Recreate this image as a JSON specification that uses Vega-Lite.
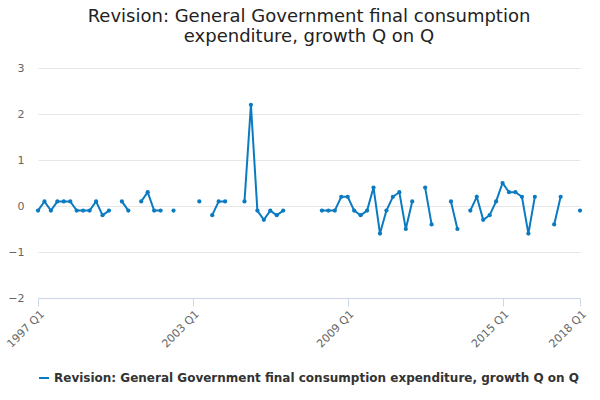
{
  "$schema": "https://vega.github.io/schema/vega-lite/v6.json",
  "width": 542,
  "height": 230,
  "padding": {"left": 4, "right": 14, "top": 8, "bottom": 5},
  "title": {
    "text": ["Revision: General Government final consumption", "expenditure, growth Q on Q"],
    "fontSize": 18, "font": "DejaVu Sans", "fontWeight": "normal", "color": "#222", "offset": 16
  },
  "config": {"font": "DejaVu Sans", "view": {"stroke": null}},
  "data": {"values": [
    {"q":"1997 Q1","v":-0.1},{"q":"1997 Q2","v":0.1},{"q":"1997 Q3","v":-0.1},{"q":"1997 Q4","v":0.1},
    {"q":"1998 Q1","v":0.1},{"q":"1998 Q2","v":0.1},{"q":"1998 Q3","v":-0.1},{"q":"1998 Q4","v":-0.1},
    {"q":"1999 Q1","v":-0.1},{"q":"1999 Q2","v":0.1},{"q":"1999 Q3","v":-0.2},{"q":"1999 Q4","v":-0.1},
    {"q":"2000 Q1","v":null},{"q":"2000 Q2","v":0.1},{"q":"2000 Q3","v":-0.1},{"q":"2000 Q4","v":null},
    {"q":"2001 Q1","v":0.1},{"q":"2001 Q2","v":0.3},{"q":"2001 Q3","v":-0.1},{"q":"2001 Q4","v":-0.1},
    {"q":"2002 Q1","v":null},{"q":"2002 Q2","v":-0.1},{"q":"2002 Q3","v":null},{"q":"2002 Q4","v":null},
    {"q":"2003 Q1","v":null},{"q":"2003 Q2","v":0.1},{"q":"2003 Q3","v":null},{"q":"2003 Q4","v":-0.2},
    {"q":"2004 Q1","v":0.1},{"q":"2004 Q2","v":0.1},{"q":"2004 Q3","v":null},{"q":"2004 Q4","v":null},
    {"q":"2005 Q1","v":0.1},{"q":"2005 Q2","v":2.2},{"q":"2005 Q3","v":-0.1},{"q":"2005 Q4","v":-0.3},
    {"q":"2006 Q1","v":-0.1},{"q":"2006 Q2","v":-0.2},{"q":"2006 Q3","v":-0.1},{"q":"2006 Q4","v":null},
    {"q":"2007 Q1","v":null},{"q":"2007 Q2","v":null},{"q":"2007 Q3","v":null},{"q":"2007 Q4","v":null},
    {"q":"2008 Q1","v":-0.1},{"q":"2008 Q2","v":-0.1},{"q":"2008 Q3","v":-0.1},{"q":"2008 Q4","v":0.2},
    {"q":"2009 Q1","v":0.2},{"q":"2009 Q2","v":-0.1},{"q":"2009 Q3","v":-0.2},{"q":"2009 Q4","v":-0.1},
    {"q":"2010 Q1","v":0.4},{"q":"2010 Q2","v":-0.6},{"q":"2010 Q3","v":-0.1},{"q":"2010 Q4","v":0.2},
    {"q":"2011 Q1","v":0.3},{"q":"2011 Q2","v":-0.5},{"q":"2011 Q3","v":0.1},{"q":"2011 Q4","v":null},
    {"q":"2012 Q1","v":0.4},{"q":"2012 Q2","v":-0.4},{"q":"2012 Q3","v":null},{"q":"2012 Q4","v":null},
    {"q":"2013 Q1","v":0.1},{"q":"2013 Q2","v":-0.5},{"q":"2013 Q3","v":null},{"q":"2013 Q4","v":-0.1},
    {"q":"2014 Q1","v":0.2},{"q":"2014 Q2","v":-0.3},{"q":"2014 Q3","v":-0.2},{"q":"2014 Q4","v":0.1},
    {"q":"2015 Q1","v":0.5},{"q":"2015 Q2","v":0.3},{"q":"2015 Q3","v":0.3},{"q":"2015 Q4","v":0.2},
    {"q":"2016 Q1","v":-0.6},{"q":"2016 Q2","v":0.2},{"q":"2016 Q3","v":null},{"q":"2016 Q4","v":null},
    {"q":"2017 Q1","v":-0.4},{"q":"2017 Q2","v":0.2},{"q":"2017 Q3","v":null},{"q":"2017 Q4","v":null},
    {"q":"2018 Q1","v":-0.1}
  ]},
  "encoding": {
    "x": {
      "field": "q", "type": "ordinal", "sort": null,
      "scale": {"type": "point", "padding": 0},
      "axis": {
        "values": ["1997 Q1","2003 Q1","2009 Q1","2015 Q1","2018 Q1"],
        "labelAngle": -45, "labelFontSize": 11, "labelColor": "#666",
        "domainColor": "#ccd6eb", "tickColor": "#ccd6eb", "tickSize": 8,
        "grid": false, "title": null
      }
    },
    "y": {
      "field": "v", "type": "quantitative",
      "scale": {"domain": [-2, 3]},
      "axis": {
        "values": [-2, -1, 0, 1, 2, 3], "title": null, "domain": false, "ticks": false,
        "labelFontSize": 11, "labelColor": "#666", "gridColor": "#e6e6e6", "labelPadding": 14
      }
    },
    "color": {
      "datum": "Revision: General Government final consumption expenditure, growth Q on Q",
      "type": "nominal",
      "scale": {"range": ["#0b7bc1"]},
      "legend": {"orient": "bottom", "title": null, "labelFontSize": 12, "labelFontWeight": "bold",
        "labelColor": "#333", "symbolType": "stroke", "symbolStrokeWidth": 2, "labelLimit": 600, "offset": 22}
    }
  },
  "layer": [
    {"mark": {"type": "line", "strokeWidth": 2}},
    {"mark": {"type": "point", "filled": true, "size": 18, "opacity": 1}},
    {
      "data": {"values": [{}]},
      "mark": {"type": "text", "align": "right", "fontSize": 12, "color": "#666", "dy": 91, "dx": 8},
      "encoding": {
        "x": {"datum": "2018 Q1", "type": "ordinal"},
        "y": {"datum": -2, "type": "quantitative"},
        "text": {"value": "Source:"},
        "color": {"value": "#666"}
      }
    }
  ]
}
